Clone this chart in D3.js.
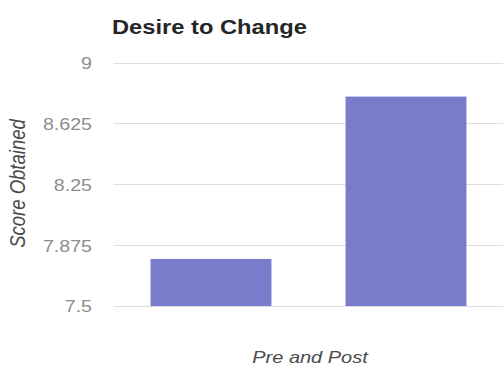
<!DOCTYPE html>
<html>
<head>
<meta charset="utf-8">
<script src="https://cdn.jsdelivr.net/npm/d3@7"></script>
<style>
  html, body { margin: 0; padding: 0; background: #fff; }
  svg { display: block; font-family: "Liberation Sans", Arial, sans-serif; }
</style>
</head>
<body>
<svg id="chart" width="503" height="366"></svg>
<script>
// Desire to Change: mean score before and after
const categories = ["Pre", "Post"];
const scores = [7.79, 8.79];
const yTicks = [7.5, 7.875, 8.25, 8.625, 9];
const yTickLabels = ["7.5", "7.875", "8.25", "8.625", "9"];

const svg = d3.select("#chart");
const W = 503, H = 366;
const plot = { left: 113.5, right: 503.5, top: 62.5, bottom: 306 };
const wide = 1.19; // horizontal widening applied to horizontal labels

const x = d3.scaleBand()
  .domain(categories)
  .range([plot.left, plot.right])
  .paddingInner(0.38)
  .paddingOuter(0.19);

const y = d3.scaleLinear()
  .domain([7.5, 9])
  .range([plot.bottom, plot.top]);

// horizontal gridlines
svg.append("g")
  .selectAll("line")
  .data(yTicks)
  .join("line")
  .attr("x1", plot.left)
  .attr("x2", W)
  .attr("y1", d => Math.round(y(d)) + 0.5)
  .attr("y2", d => Math.round(y(d)) + 0.5)
  .attr("stroke", "#dedede")
  .attr("stroke-width", 1);

// y-axis tick labels
const yAxis = d3.axisLeft(y)
  .tickValues(yTicks)
  .tickFormat((d, i) => yTickLabels[i])
  .tickSize(0)
  .tickPadding(0);
const gy = svg.append("g")
  .attr("transform", `translate(92,0)`)
  .call(yAxis);
gy.select(".domain").remove();
gy.selectAll("text")
  .attr("x", 0)
  .attr("font-size", 16.5)
  .attr("fill", "#8c8c8c")
  .attr("dy", "0.36em")
  .attr("transform", `scale(${wide},1)`)
  .style("font-family", '"Liberation Sans", Arial, sans-serif');

// bars
svg.append("g")
  .selectAll("rect")
  .data(categories.map((c, i) => ({ c, v: scores[i] })))
  .join("rect")
  .attr("x", d => x(d.c))
  .attr("width", x.bandwidth())
  .attr("y", d => y(d.v))
  .attr("height", d => y(7.5) - y(d.v))
  .attr("fill", "#797bcb");

// title
svg.append("text")
  .attr("transform", `translate(112,34) scale(${195 / 172.7},1)`)
  .attr("font-size", 21)
  .attr("font-weight", "bold")
  .attr("fill", "#262626")
  .text("Desire to Change");

// axis titles
svg.append("text")
  .attr("transform", `translate(25,183.5) rotate(-90) scale(1,${wide})`)
  .attr("text-anchor", "middle")
  .attr("font-size", 18.5)
  .attr("font-style", "italic")
  .attr("fill", "#4a4a4a")
  .text("Score Obtained");

svg.append("text")
  .attr("transform", `translate(310,363) scale(${wide},1)`)
  .attr("text-anchor", "middle")
  .attr("font-size", 16.8)
  .attr("font-style", "italic")
  .attr("fill", "#4a4a4a")
  .text("Pre and Post");
</script>
</body>
</html>
